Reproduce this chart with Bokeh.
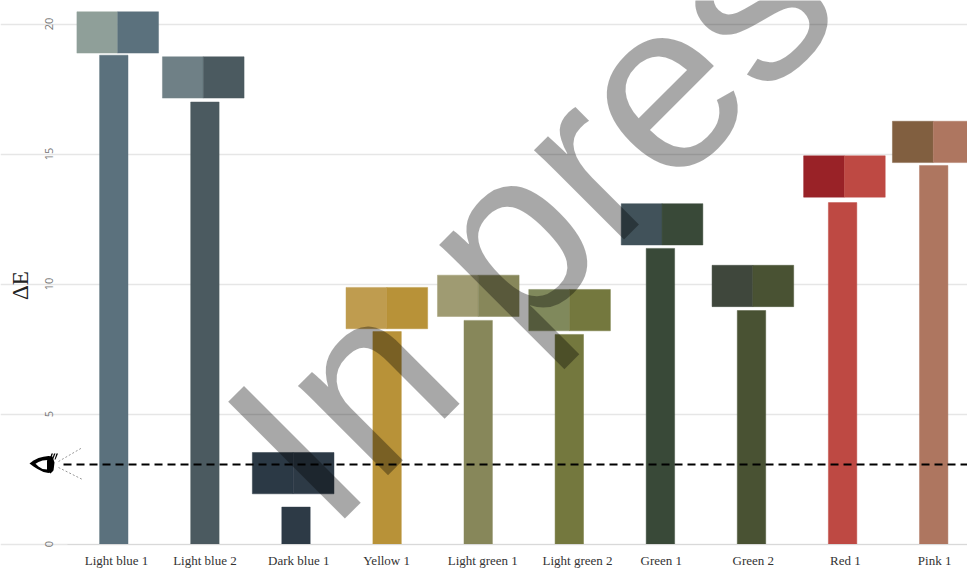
from bokeh.plotting import figure
from bokeh.embed import file_html
from bokeh.resources import INLINE
from bokeh.models import (Range1d, FixedTicker, Label, Arrow, PolyAnnotation, ColumnDataSource)

categories = ["Light blue 1", "Light blue 2", "Dark blue 1", "Yellow 1", "Light green 1",
              "Light green 2", "Green 1", "Green 2", "Red 1", "Pink 1"]
delta_e = [18.8, 17.0, 1.42, 8.17, 8.6, 8.06, 11.37, 8.98, 13.13, 14.56]
reference_level = 3.06
swatch_bottom = [18.88, 17.15, 1.93, 8.28, 8.75, 8.2, 11.5, 9.13, 13.34, 14.67]
swatch_center = [0.043, 0.982, 1.969, 2.997, 4.001, 5.003, 6.018, 7.015, 8.02, 8.995]
label_center = [0.03, 1.0, 2.03, 2.995, 4.05, 5.09, 6.01, 7.02, 8.03, 9.01]
color_left = ["#8f9f99", "#6f8086", "#2b3945", "#bf9c4f", "#9f9b72",
              "#80895c", "#41525a", "#3f473c", "#992227", "#815f40"]
color_right = ["#5b717d", "#4b5a60", "#2d3a46", "#b89238", "#87875a",
               "#74783e", "#394938", "#495233", "#be4943", "#ae7660"]
y_ticks = [0, 5, 10, 15, 20]

SWATCH_H = 1.59
SWATCH_HALF = 0.448
BAR_W = 0.312
X_AXIS_START = -0.508
X_END = 9.371

p = figure(width=967, height=570, output_backend="svg", toolbar_location=None,
           x_range=Range1d(-1.2437, X_END), y_range=Range1d(-1.019, 20.904),
           min_border_left=0, min_border_right=0, min_border_top=0, min_border_bottom=0)
p.outline_line_color = None
p.background_fill_color = "white"
p.border_fill_color = "white"

p.xgrid.visible = False
p.ygrid.grid_line_color = "#e6e6e6"
p.ygrid.grid_line_width = 1.5
p.ygrid.ticker = FixedTicker(ticks=y_ticks)
p.ygrid.bounds = (X_AXIS_START, X_END)

xa = p.xaxis[0]
xa.fixed_location = 0
xa.ticker = FixedTicker(ticks=label_center)
xa.major_label_overrides = {t: c for t, c in zip(label_center, categories)}
xa.bounds = (X_AXIS_START, X_END)
xa.axis_line_color = "#d9d9d9"
xa.major_tick_line_color = None
xa.minor_tick_line_color = None
xa.major_label_text_font = "Liberation Serif"
xa.major_label_text_font_size = "13px"
xa.major_label_text_color = "#333333"
xa.major_label_standoff = 3

ya = p.yaxis[0]
ya.fixed_location = X_AXIS_START
ya.ticker = FixedTicker(ticks=y_ticks)
ya.axis_line_color = None
ya.major_tick_line_color = None
ya.minor_tick_line_color = None
ya.major_label_orientation = "vertical"
ya.major_label_text_font = "Open Sans"
ya.major_label_text_font_size = "11px"
ya.major_label_text_color = "#777777"
ya.major_label_standoff = 9
ya.axis_label = "ΔE"
ya.axis_label_text_font = "Liberation Serif"
ya.axis_label_text_font_style = "normal"
ya.axis_label_text_font_size = "23px"
ya.axis_label_text_color = "#222222"
ya.axis_label_standoff = 9

xs = list(range(len(categories)))
bars = ColumnDataSource(dict(x=xs, top=delta_e, color=color_right))
p.vbar(x="x", top="top", bottom=0, width=BAR_W, source=bars, fill_color="color",
       line_color="color", line_alpha=0.45, line_width=1)

boxes = ColumnDataSource(dict(
    c=swatch_center,
    left=[c - SWATCH_HALF for c in swatch_center],
    right=[c + SWATCH_HALF for c in swatch_center],
    bottom=swatch_bottom,
    top=[b + SWATCH_H for b in swatch_bottom],
    cl=color_left, cr=color_right))
p.quad(left="left", right="c", bottom="bottom", top="top", source=boxes,
       fill_color="cl", line_color="cl", line_alpha=0.45)
p.quad(left="c", right="right", bottom="bottom", top="top", source=boxes,
       fill_color="cr", line_color="cr", line_alpha=0.45)

# dashed reference line (starts left of the bars, beside the eye)
p.add_layout(Arrow(start=None, end=None, x_start=-0.552, y_start=reference_level,
                   x_end=X_END, y_end=reference_level, line_color="black",
                   line_width=2, line_dash="8 5"))
# sight lines and eye, in canvas pixels
for x0, y0, x1, y1 in [(58, 461, 82, 447), (58, 467, 82, 479)]:
    p.add_layout(Arrow(start=None, end=None, x_start=x0, y_start=y0, x_end=x1, y_end=y1,
                       start_units="canvas", end_units="canvas",
                       line_color="#999999", line_width=1, line_dash="2 2"))

def eye(xs_, ys_, color):
    p.add_layout(PolyAnnotation(xs=xs_, ys=ys_, xs_units="canvas", ys_units="canvas",
                                fill_color=color, fill_alpha=1, line_color=color, line_width=0))

eye([29, 33, 38, 43, 48, 52, 54, 53, 48, 43, 37, 33],
    [463, 460, 457.5, 456.2, 455.5, 456, 462, 470, 472.5, 471.5, 468.5, 466], "black")
eye([35, 38, 42, 47, 47, 42, 38], [463.3, 461.5, 460, 459.5, 469, 468.5, 466], "white")
eye([46.5, 50, 52, 53, 52, 50, 46.5], [460, 458, 459, 465, 471, 473, 470], "black")
for lx in (50, 52.5, 55):
    eye([lx - 1, lx, lx + 2.5, lx + 1], [459, 459, 453, 453], "black")

# watermark
p.add_layout(Label(text="In press", x=270, y=475, x_units="canvas", y_units="canvas",
                   angle=45, angle_units="deg", text_align="left", text_baseline="alphabetic",
                   text_font="Liberation Sans", text_font_size="240px",
                   text_color="black", text_alpha=0.34))

open("out.html", "w").write(file_html(p, INLINE))
